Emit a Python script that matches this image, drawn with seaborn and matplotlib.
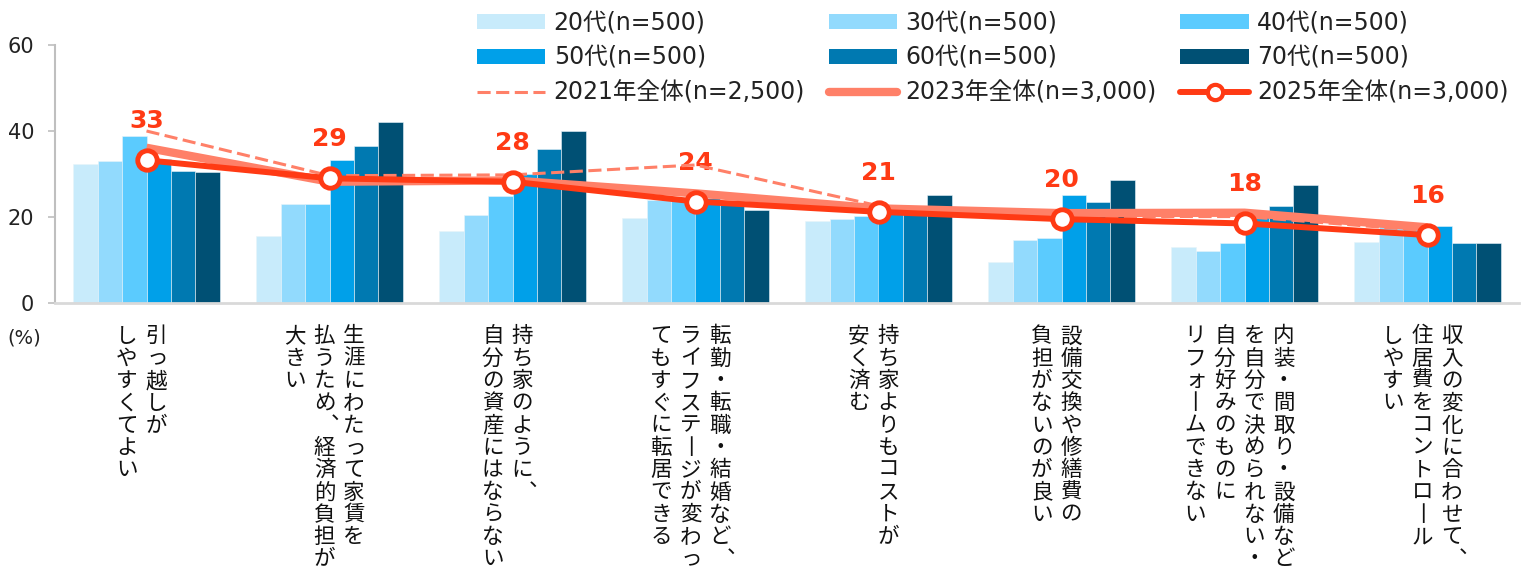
import matplotlib
matplotlib.use("Agg")
import matplotlib.pyplot as plt
from matplotlib.patches import Patch
from matplotlib.lines import Line2D
import seaborn as sns
import pandas as pd
import numpy as np

# 項目 (縦書き: 1要素 = 1列, 右から左へ)
item_lines = [
    ["引っ越しが", "しやすくてよい"],
    ["生涯にわたって家賃を", "払うため、経済的負担が", "大きい"],
    ["持ち家のように、", "自分の資産にはならない"],
    ["転勤・転職・結婚など、", "ライフステージが変わっ", "てもすぐに転居できる"],
    ["持ち家よりもコストが", "安く済む"],
    ["設備交換や修繕費の", "負担がないのが良い"],
    ["内装・間取り・設備など", "を自分で決められない・", "自分好みのものに", "リフォームできない"],
    ["収入の変化に合わせて、", "住居費をコントロール", "しやすい"],
]
items = ["".join(l) for l in item_lines]

ages = ["20代(n=500)", "30代(n=500)", "40代(n=500)",
        "50代(n=500)", "60代(n=500)", "70代(n=500)"]
age_20 = [32.3, 15.5, 16.7, 19.8, 19.1, 9.5, 13.1, 14.2]
age_30 = [33.1, 23.0, 20.5, 24.0, 19.5, 14.6, 12.2, 18.7]
age_40 = [38.8, 23.1, 24.9, 24.7, 20.3, 15.1, 14.0, 18.3]
age_50 = [33.4, 33.3, 30.0, 24.4, 20.8, 25.1, 20.0, 17.9]
age_60 = [30.7, 36.4, 35.9, 23.8, 21.0, 23.5, 22.5, 14.0]
age_70 = [30.5, 42.1, 40.1, 21.6, 25.1, 28.5, 27.5, 14.0]

total_2021 = [40.0, 29.6, 29.8, 32.1, 22.6, 20.1, 20.1, 16.8]
total_2023 = [36.1, 28.2, 28.5, 25.5, 22.0, 20.9, 21.0, 17.6]
total_2025 = [33.2, 29.0, 28.2, 23.6, 21.2, 19.5, 18.5, 15.8]
labels_2025 = [33, 29, 28, 24, 21, 20, 18, 16]
line_names = ["2021年全体(n=2,500)", "2023年全体(n=3,000)", "2025年全体(n=3,000)"]

bar_colors = ["#C8EBFB", "#92DAFD", "#5BCBFE", "#00A0E9", "#0079B1", "#005074"]
c2021 = "#FF8068"
c2023 = "#FF8068"
c2025 = "#FF3A14"

sns.set_theme(style="ticks")
plt.rcParams["font.family"] = ["DejaVu Sans", "Noto Sans CJK JP"]

rows = []
for a, vals in zip(ages, [age_20, age_30, age_40, age_50, age_60, age_70]):
    for it, v in zip(items, vals):
        rows.append({"item": it, "age": a, "value": v})
df = pd.DataFrame(rows)

fig = plt.figure(figsize=(15.3, 5.84), dpi=100)
ax = fig.add_axes([55 / 1530, 1 - 303 / 584, 1464 / 1530, 258 / 584])

sns.barplot(data=df, x="item", y="value", hue="age", order=items, hue_order=ages,
            palette=bar_colors, saturation=1, width=0.8, errorbar=None,
            edgecolor="#E8F4FA", linewidth=0.4, legend=False, ax=ax)

x = np.arange(len(items))
ax.plot(x, total_2023, color=c2023, lw=6, solid_capstyle="butt", zorder=3)
ax.plot(x, total_2021, color=c2021, lw=2.2, ls=(0, (4.3, 1.8)), zorder=4)
ax.plot(x, total_2025, color=c2025, lw=4.3, marker="o", ms=14, mfc="white",
        mec=c2025, mew=3.5, zorder=5)

for xi, yi, lab in zip(x, total_2025, labels_2025):
    ax.annotate(str(lab), (xi, yi), xytext=(0, 39), textcoords="offset pixels",
                ha="center", va="center", fontsize=18, fontweight="bold", color=c2025)

# 縦書きラベル
vert = {"、": "︑", "ー": "丨"}
small = set("っッォゃゅょァィゥェ")
col_w = 29.5
step = 22.3
for i, lines in enumerate(item_lines):
    n = len(lines)
    for j, line in enumerate(lines):
        dx = (n - 1) / 2 * col_w - 5 - j * col_w
        for k, ch in enumerate(line):
            ox, oy = 0, 0
            if ch in small:
                ox, oy = 1, 1
            if ch == "、":
                ox = 4
            ax.annotate(vert.get(ch, ch), xy=(i, 0), xycoords="data",
                        xytext=(dx + ox, -39.4 - step * k + oy), textcoords="offset pixels",
                        ha="center", va="baseline", fontsize=15.5, color="#111111",
                        family=["Noto Sans CJK JP"], annotation_clip=False)

ax.set_xlim(-0.5, len(items) - 0.5)
ax.set_ylim(0, 60)
ax.set_yticks([0, 20, 40, 60])
ax.set_xticks(x)
ax.set_xticklabels([])
ax.set_xlabel("")
ax.set_ylabel("")
ax.tick_params(axis="x", length=0)
ax.tick_params(axis="y", length=5, width=1.2, color="#BFBFBF", pad=10,
               labelsize=15, labelcolor="#222222")
for s in ["top", "right"]:
    ax.spines[s].set_visible(False)
ax.spines["left"].set_color("#BFBFBF")
ax.spines["left"].set_linewidth(1.5)
ax.spines["bottom"].set_color("#D9D9D9")
ax.spines["bottom"].set_linewidth(2)

fig.text(24 / 1530, 1 - 338 / 584, "(%)", ha="center", va="center",
         fontsize=14, color="#222222")

# 凡例 (列方向に並ぶ)
bh = [Patch(facecolor=c, edgecolor="none") for c in bar_colors]
h2021 = Line2D([], [], color=c2021, lw=2.2, ls=(0, (4.3, 1.8)))
h2023 = Line2D([], [], color=c2023, lw=6)
h2025 = Line2D([], [], color=c2025, lw=4.3, marker="o", ms=11, mfc="white",
               mec=c2025, mew=3)
handles = [bh[0], bh[3], h2021, bh[1], bh[4], h2023, bh[2], bh[5], h2025]
labels = [ages[0], ages[3], line_names[0], ages[1], ages[4], line_names[1],
          ages[2], ages[5], line_names[2]]
fig.legend(handles, labels, ncol=3, loc="upper left",
           bbox_to_anchor=(477 / 1530, 1 - 11 / 584), frameon=False,
           fontsize=17, handlelength=2.9, handleheight=0.6, handletextpad=0.35,
           columnspacing=1.0, labelspacing=0.46, borderpad=0, borderaxespad=0,
           labelcolor="#222222")

fig.savefig("out.png", dpi=100)
